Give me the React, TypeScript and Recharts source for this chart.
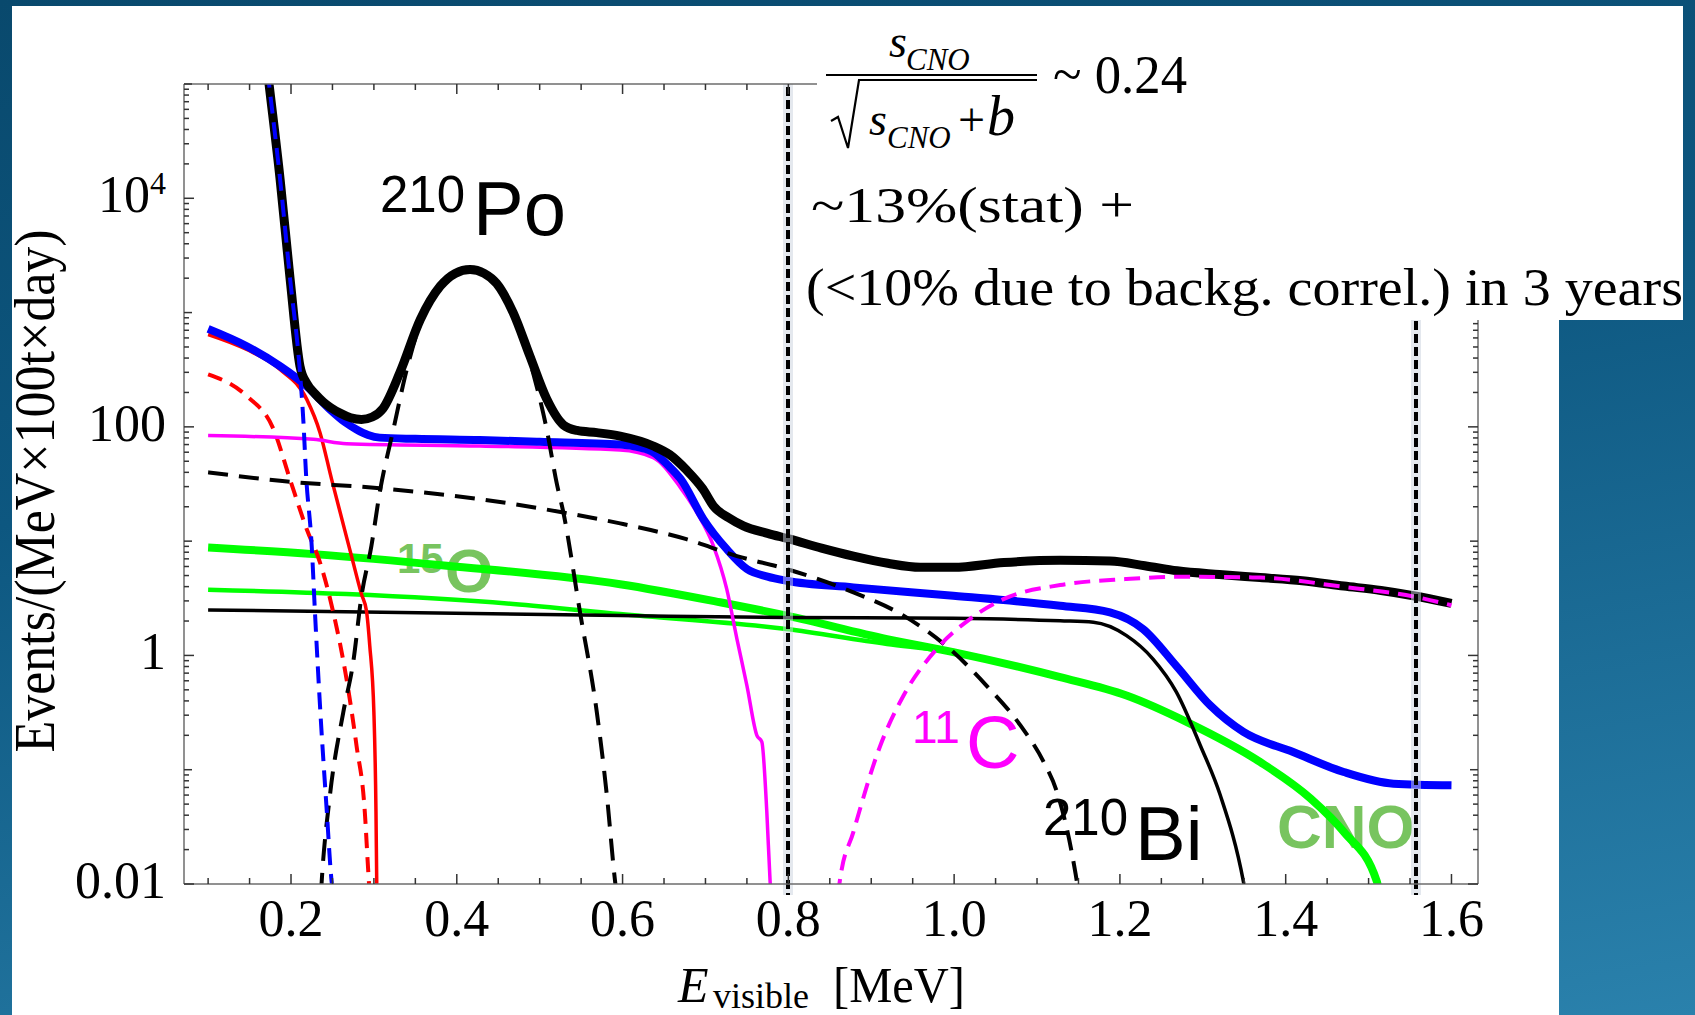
import React from 'react';
import { LineChart, Line, XAxis, YAxis, ReferenceLine } from 'recharts';

type Pt = [number, number];

// energy [MeV], rate [events/(MeV x 100t x day)]
const total: Pt[] = [
  [0.168, 220000], [0.1735, 100000], [0.1867, 15000], [0.1988, 2000], [0.2108, 340], [0.219, 240],
  [0.229, 195], [0.239, 165], [0.259, 132], [0.272, 120], [0.285, 116], [0.298, 122], [0.311, 145],
  [0.3315, 300], [0.356, 870], [0.38, 1700], [0.398, 2200], [0.416, 2380], [0.433, 2200], [0.448, 1800],
  [0.468, 1000], [0.488, 420], [0.5085, 175], [0.5286, 104], [0.545, 93], [0.569, 89], [0.597, 83],
  [0.637, 68], [0.657, 57], [0.677, 42], [0.697, 28.5], [0.7096, 20.3], [0.728, 16], [0.7457, 13.6],
  [0.775, 11.7], [0.802, 10.4], [0.84, 8.7], [0.8785, 7.4], [0.92, 6.4], [0.959, 5.9], [0.999, 5.9],
  [1.06, 6.5], [1.128, 6.8], [1.188, 6.7], [1.23, 6.1], [1.269, 5.5], [1.32, 5.1], [1.369, 4.8],
  [1.42, 4.5], [1.47, 4.05], [1.515, 3.7], [1.554, 3.33], [1.6, 2.85],
];
const sumNoPo: Pt[] = [
  [0.1, 720], [0.1466, 508], [0.1867, 340], [0.219, 227], [0.247, 142], [0.265, 110], [0.279, 95],
  [0.293, 85], [0.307, 80.5], [0.35, 78.5], [0.428, 76.7], [0.5, 74], [0.597, 70], [0.62, 66],
  [0.637, 60], [0.655, 46], [0.67, 35], [0.6975, 15.6], [0.7257, 8.5], [0.75, 5.7], [0.775, 4.9],
  [0.798, 4.5], [0.8785, 3.94], [0.999, 3.33], [1.128, 2.72], [1.188, 2.38], [1.228, 1.7],
  [1.268, 0.81], [1.309, 0.365], [1.349, 0.214], [1.409, 0.143], [1.47, 0.0955], [1.53, 0.0755],
  [1.6, 0.073],
];
const c14: Pt[] = [
  [0.168, 220000], [0.1735, 100000], [0.1867, 15000], [0.1988, 2000], [0.2108, 300], [0.215, 110],
  [0.218, 40], [0.225, 9], [0.229, 2.3], [0.235, 0.36], [0.243, 0.045], [0.249, 0.0105], [0.251, 0.008],
];
const po210: Pt[] = [
  [0.236, 0.008], [0.237, 0.0105], [0.247, 0.06], [0.263, 0.316], [0.275, 0.87], [0.285, 3.3],
  [0.297, 9.1], [0.307, 26.6], [0.3235, 95], [0.3396, 316], [0.356, 800], [0.38, 1650], [0.398, 2150],
  [0.416, 2350], [0.433, 2180], [0.448, 1780], [0.468, 990], [0.492, 297], [0.5085, 95], [0.5206, 32],
  [0.5286, 17.8], [0.5487, 2.38], [0.569, 0.316], [0.581, 0.06], [0.591, 0.0105], [0.593, 0.008],
];
const bi210: Pt[] = [
  [0.1, 40], [0.1867, 33.7], [0.307, 29], [0.428, 23.3], [0.5286, 17.8], [0.597, 14.3], [0.677, 10.4],
  [0.738, 7.4], [0.798, 5.7], [0.8785, 3.56], [0.939, 2.23], [0.999, 1.07], [1.039, 0.545],
  [1.08, 0.244], [1.108, 0.117], [1.124, 0.064], [1.144, 0.0156], [1.148, 0.0105], [1.15, 0.008],
];
const pep: Pt[] = [
  [0.1, 2.5], [0.597, 2.23], [0.798, 2.15], [0.999, 2.11], [1.128, 2.01], [1.168, 1.95], [1.208, 1.49],
  [1.24, 0.93], [1.268, 0.48], [1.297, 0.163], [1.321, 0.06], [1.349, 0.0105], [1.352, 0.008],
];
const cno: Pt[] = [
  [0.1, 8.8], [0.227, 7.7], [0.388, 6.1], [0.597, 4.2], [0.7176, 2.92], [0.798, 2.23], [0.919, 1.39],
  [0.999, 1.07], [1.128, 0.646], [1.208, 0.446], [1.281, 0.261], [1.369, 0.117], [1.43, 0.056],
  [1.47, 0.0286], [1.51, 0.0105], [1.513, 0.008],
];
const n13: Pt[] = [
  [0.1, 3.76], [0.267, 3.44], [0.468, 2.82], [0.597, 2.3], [0.798, 1.7], [0.919, 1.26], [0.979, 1.12],
  [0.999, 1.07],
];
const be7: Pt[] = [
  [0.1, 84], [0.227, 77.8], [0.267, 71.3], [0.428, 68], [0.597, 62.7], [0.637, 53.8], [0.669, 30],
  [0.6896, 17.8], [0.7096, 9.1], [0.7257, 3.8], [0.738, 1.39], [0.75, 0.545], [0.762, 0.2],
  [0.768, 0.175], [0.774, 0.043], [0.778, 0.0105], [0.779, 0.008],
];
const c11: Pt[] = [
  [0.86, 0.008], [0.862, 0.0105], [0.8785, 0.0286], [0.911, 0.163], [0.939, 0.446], [0.979, 1.14],
  [1.019, 2.08], [1.0595, 3.11], [1.128, 4.13], [1.208, 4.66], [1.269, 4.88], [1.369, 4.8],
  [1.47, 3.98], [1.554, 3.28], [1.6, 2.75],
];
const ppSolid: Pt[] = [
  [0.1, 643], [0.1466, 475], [0.1867, 318], [0.219, 174], [0.235, 89], [0.249, 34.7], [0.273, 7.4],
  [0.285, 3.44], [0.291, 2.46], [0.295, 1.22], [0.3, 0.316], [0.3025, 0.043], [0.3034, 0.0105],
  [0.3036, 0.008],
];
const ppDashed: Pt[] = [
  [0.1, 288], [0.1466, 186], [0.179, 95], [0.1988, 34.7], [0.219, 12.7], [0.235, 6.5], [0.251, 2.38],
  [0.267, 0.62], [0.279, 0.163], [0.289, 0.043], [0.293, 0.0136], [0.295, 0.008],
];

const xMajorTicks = [0.2, 0.4, 0.6, 0.8, 1.0, 1.2, 1.4, 1.6];
const xMajorLabels = ['0.2', '0.4', '0.6', '0.8', '1.0', '1.2', '1.4', '1.6'];
const xMinorTicks = [
  0.1, 0.15, 0.25, 0.3, 0.35, 0.45, 0.5, 0.55, 0.65, 0.7, 0.75, 0.85, 0.9, 0.95,
  1.05, 1.1, 1.15, 1.25, 1.3, 1.35, 1.45, 1.5, 1.55,
];
const yMajorTicks = [0.01, 1, 100, 10000];
const yMajorLabels = ['0.01', '1', '100', '10^4'];
const yMidTicks = [0.1, 10, 1000, 100000];
const yDecades = [0.01, 0.1, 1, 10, 100, 1000, 10000];
const cutEnergies = [0.8, 1.557];

const W = 1695;
const H = 1015;
const xDomain = [0.0709, 1.632];
const yDomain = [0.01, 100000];
const serif = '"Liberation Serif", "Times New Roman", serif';
const sans = '"Liberation Sans", Arial, sans-serif';
const frame = '#6d6d6d';
const tickColor = '#333';

const yMinorTicks = yDecades.flatMap((d) => [2, 3, 4, 5, 6, 7, 8, 9].map((k) => +(k * d).toPrecision(3)));
const xTicks = [...xMajorTicks, ...xMinorTicks].sort((a, b) => a - b);
const yTicks = [...yMajorTicks, ...yMidTicks, ...yMinorTicks].sort((a, b) => a - b);

const toPts = (a: Pt[]) => a.map(([e, v]) => ({ e, v }));

const series = [
  { key: 'cno', data: cno, color: '#00ff00', width: 8 },
  { key: 'n13', data: n13, color: '#00ff00', width: 4.5 },
  { key: 'pep', data: pep, color: '#000000', width: 3.5 },
  { key: 'pp', data: ppSolid, color: '#ff0000', width: 3.5 },
  { key: 'ppd', data: ppDashed, color: '#ff0000', width: 4, dash: '15 9' },
  { key: 'be7', data: be7, color: '#ff00ff', width: 3.5 },
  { key: 'sum', data: sumNoPo, color: '#0000ff', width: 8 },
  { key: 'total', data: total, color: '#000000', width: 9 },
  { key: 'bi', data: bi210, color: '#000000', width: 4, dash: '20 11' },
  { key: 'po', data: po210, color: '#000000', width: 4, dash: '22 12' },
  { key: 'c14', data: c14, color: '#0000ff', width: 4, dash: '17 9' },
  { key: 'c11', data: c11, color: '#ff00ff', width: 4, dash: '16 9' },
];

const makeXTick = (side: 'bottom' | 'top') => (props: any) => {
  const { x, y, payload } = props;
  const i = xMajorTicks.indexOf(payload.value);
  const len = i >= 0 ? 10 : 6;
  const dir = side === 'bottom' ? -1 : 1;
  return (
    <g>
      <line x1={x} x2={x} y1={y} y2={y + dir * len} stroke={tickColor} strokeWidth={1.5} />
      {side === 'bottom' && i >= 0 && (
        <text x={x} y={y + 52} textAnchor="middle" fontFamily={serif} fontSize={52} fill="#000">
          {xMajorLabels[i]}
        </text>
      )}
    </g>
  );
};

const makeYTick = (side: 'left' | 'right') => (props: any) => {
  const { x, y, payload } = props;
  const v = payload.value;
  const i = yMajorTicks.indexOf(v);
  const len = i >= 0 ? 10 : yMidTicks.includes(v) ? 8 : 5;
  const dir = side === 'left' ? 1 : -1;
  const lbl = i >= 0 ? yMajorLabels[i] : '';
  return (
    <g>
      <line x1={x} x2={x + dir * len} y1={y} y2={y} stroke={tickColor} strokeWidth={1.5} />
      {side === 'left' && i >= 0 && (
        <text x={x - 18} y={y + 14} textAnchor="end" fontFamily={serif} fontSize={52} fill="#000">
          {lbl === '10^4' ? (
            <>
              <tspan>10</tspan>
              <tspan dy={-18} fontSize={32}>4</tspan>
            </>
          ) : (
            lbl
          )}
        </text>
      )}
    </g>
  );
};

const CutLine = (p: any) => {
  const top = Math.min(p.y1, p.y2);
  const bot = Math.max(p.y1, p.y2);
  const x = Math.round(p.x1);
  return (
    <g>
      <line x1={x} x2={x} y1={top} y2={bot + 11} stroke="#c9d1dd" strokeOpacity={0.5} strokeWidth={10} />
      <line x1={x} x2={x} y1={top + 3} y2={bot + 11} stroke="#000" strokeWidth={4} strokeDasharray="9 4" />
    </g>
  );
};

const axisCommon = {
  type: 'number' as const,
  allowDataOverflow: true,
  interval: 0 as const,
  tickLine: false,
  tickSize: 0,
  tickMargin: 0,
  axisLine: { stroke: frame, strokeWidth: 1.5 },
};

export default function App() {
  return (
    <div
      style={{
        position: 'absolute',
        left: 0,
        top: 0,
        width: W,
        height: H,
        overflow: 'hidden',
        background: 'linear-gradient(170deg, #09496d 0%, #0d5780 40%, #2a81ac 100%)',
      }}
    >
      <div style={{ position: 'absolute', left: 12, top: 6, width: 1547, height: 1009, background: '#fff' }} />

      {/* curve labels sit under the lines */}
      <svg width={W} height={H} style={{ position: 'absolute', left: 0, top: 0 }}>
        <text x={380} y={212} fontFamily={sans} fontSize={51}>210</text>
        <text x={473} y={235} fontFamily={sans} fontSize={76}>Po</text>
        <text x={397} y={573} fontFamily={sans} fontSize={42} fontWeight="bold" fill="#78c45f">15</text>
        <text x={445} y={592} fontFamily={sans} fontSize={62} fontWeight="bold" fill="#78c45f">O</text>
        <text x={912} y={743} fontFamily={sans} fontSize={46} fill="#ff00ff">11</text>
        <text x={966} y={768} fontFamily={sans} fontSize={74} fill="#ff00ff">C</text>
        <text x={1043} y={835} fontFamily={sans} fontSize={51}>210</text>
        <text x={1135} y={860} fontFamily={sans} fontSize={76}>Bi</text>
        <text x={1277} y={848} fontFamily={sans} fontSize={62} fontWeight="bold" fill="#78c45f">CNO</text>

        <text
          transform="translate(54, 491) rotate(-90)"
          textAnchor="middle"
          fontFamily={serif}
          fontSize={56}
          textLength={523}
          lengthAdjust="spacingAndGlyphs"
        >
          Events/(MeV×100t×day)
        </text>
        <text x={678} y={1002} fontFamily={serif} fontSize={50} fontStyle="italic">E</text>
        <text x={713} y={1008} fontFamily={serif} fontSize={35} textLength={96} lengthAdjust="spacingAndGlyphs">visible</text>
        <text x={833} y={1002} fontFamily={serif} fontSize={50} textLength={132} lengthAdjust="spacingAndGlyphs">[MeV]</text>
      </svg>

      <div style={{ position: 'absolute', left: 0, top: 0 }}>
        <LineChart width={W} height={H} margin={{ top: 83, left: 183, right: 216, bottom: 130 }}>
          <XAxis {...axisCommon} dataKey="e" domain={xDomain} ticks={xTicks} tick={makeXTick('bottom')} height={1} />
          <XAxis
            {...axisCommon}
            xAxisId="top"
            orientation="top"
            dataKey="e"
            domain={xDomain}
            ticks={xTicks}
            tick={makeXTick('top')}
            height={1}
          />
          <YAxis {...axisCommon} scale="log" domain={yDomain} ticks={yTicks} tick={makeYTick('left')} width={1} />
          <YAxis
            {...axisCommon}
            yAxisId="right"
            orientation="right"
            scale="log"
            domain={yDomain}
            ticks={yTicks}
            tick={makeYTick('right')}
            width={1}
          />
          {series.map((s) => (
            <Line
              key={s.key}
              data={toPts(s.data)}
              dataKey="v"
              type="monotone"
              stroke={s.color}
              strokeWidth={s.width}
              strokeDasharray={s.dash}
              dot={false}
              activeDot={false}
              legendType="none"
              isAnimationActive={false}
            />
          ))}
          {cutEnergies.map((e) => (
            <ReferenceLine key={e} x={e} ifOverflow="visible" shape={CutLine} />
          ))}
        </LineChart>
      </div>

      {/* result box on top of the frame */}
      <div style={{ position: 'absolute', left: 817, top: 6, width: 866, height: 314, background: '#fff' }} />
      <svg width={W} height={H} style={{ position: 'absolute', left: 0, top: 0, pointerEvents: 'none' }}>
        <text x={889} y={57} fontFamily={serif} fontStyle="italic" fontSize={46}>s</text>
        <text x={906} y={70} fontFamily={serif} fontStyle="italic" fontSize={31}>CNO</text>
        <line x1={826} x2={1037} y1={75} y2={75} stroke="#000" strokeWidth={2} />
        <polyline points="831,121 838,117 848,148 859,80 1037,80" fill="none" stroke="#000" strokeWidth={2.2} />
        <text x={869} y={135} fontFamily={serif} fontStyle="italic" fontSize={46}>s</text>
        <text x={887} y={148} fontFamily={serif} fontStyle="italic" fontSize={31}>CNO</text>
        <text x={958} y={136} fontFamily={serif} fontSize={48}>+</text>
        <text x={987} y={135} fontFamily={serif} fontStyle="italic" fontSize={56}>b</text>
        <text x={1053} y={93} fontFamily={serif} fontSize={54} textLength={134} lengthAdjust="spacingAndGlyphs">~ 0.24</text>
        <text x={811} y={222} fontFamily={serif} fontSize={50} textLength={323} lengthAdjust="spacingAndGlyphs">~13%(stat) +</text>
        <text x={806} y={305} fontFamily={serif} fontSize={52} textLength={877} lengthAdjust="spacingAndGlyphs">
          (&lt;10% due to backg. correl.) in 3 years
        </text>
      </svg>
    </div>
  );
}
